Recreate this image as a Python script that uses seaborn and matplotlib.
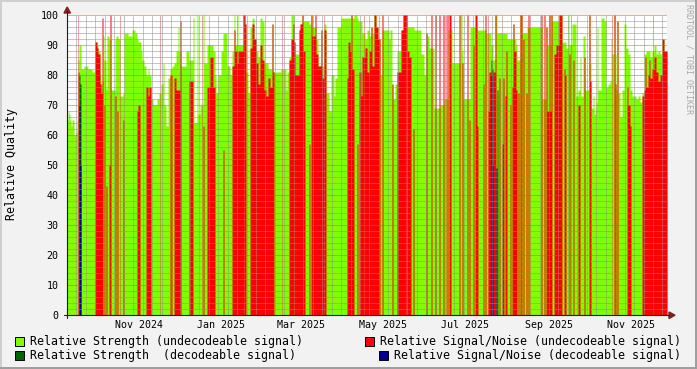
import numpy as np
import pandas as pd
import matplotlib
matplotlib.use("Agg")
import matplotlib.pyplot as plt
import matplotlib.dates as mdates
from matplotlib.ticker import MultipleLocator, NullFormatter
from matplotlib.patches import Rectangle, Polygon
from matplotlib.lines import Line2D
import seaborn as sns

# ---------------- data ----------------
START = "2024-09-23"          # first sample of the graph
N_SAMPLES = 600               # number of consolidated samples
SPAN_DAYS = 444.4             # time span covered by the samples

# run-length encoded samples: index where a run starts, strength and S/N for the run
seg_start = [0, 1, 2, 3, 4, 5, 7, 9, 10, 11,
             12, 14, 17, 21, 25, 28, 30, 31, 33, 34,
             35, 36, 37, 38, 39, 40, 42, 43, 44, 48,
             49, 50, 51, 53, 56, 57, 61, 65, 68, 70,
             71, 73, 74, 75, 77, 79, 81, 82, 84, 86,
             90, 92, 94, 96, 97, 99, 101, 103, 105, 107,
             109, 111, 112, 113, 114, 119, 122, 126, 127, 130,
             131, 133, 136, 137, 140, 143, 146, 148, 149, 151,
             154, 156, 157, 160, 163, 165, 167, 168, 170, 171,
             176, 178, 179, 181, 183, 185, 187, 189, 191, 193,
             195, 197, 199, 201, 203, 205, 206, 207, 214, 219,
             220, 222, 224, 226, 227, 228, 232, 233, 235, 236,
             238, 242, 243, 244, 245, 248, 249, 251, 254, 255,
             257, 259, 262, 264, 267, 268, 270, 274, 280, 281,
             283, 284, 285, 287, 290, 291, 292, 294, 295, 298,
             300, 302, 304, 305, 307, 309, 311, 313, 315, 316,
             322, 323, 325, 326, 328, 330, 334, 336, 340, 342,
             344, 346, 347, 354, 357, 359, 360, 362, 364, 365,
             367, 368, 369, 372, 373, 376, 377, 380, 381, 382,
             384, 385, 392, 393, 395, 396, 400, 401, 402, 403,
             406, 407, 408, 410, 411, 416, 417, 418, 419, 421,
             422, 424, 426, 428, 429, 430, 432, 433, 435, 436,
             437, 438, 439, 440, 443, 444, 445, 446, 447, 449,
             450, 451, 452, 453, 455, 456, 457, 459, 460, 461,
             462, 474, 475, 477, 478, 479, 480, 482, 483, 484,
             485, 487, 489, 492, 495, 497, 498, 499, 501, 502,
             503, 505, 506, 507, 509, 511, 513, 514, 516, 517,
             518, 522, 523, 524, 526, 527, 529, 530, 531, 534,
             537, 539, 541, 543, 544, 545, 547, 548, 549, 550,
             551, 553, 555, 557, 559, 560, 561, 563, 564, 565,
             569, 571, 573, 575, 577, 578, 579, 581, 582, 583,
             585, 587, 589, 591, 593, 595, 597]

strength = [65, 68, 67, 65, 63, 65, 60, 61, 65, 85,
            90, 82, 83, 82, 81, 91, 90, 88, 80, 77,
            78, 93, 85, 85, 75, 93, 92, 92, 75, 92,
            93, 93, 92, 73, 74, 94, 93, 95, 94, 92,
            91, 91, 88, 85, 83, 80, 82, 80, 72, 70,
            72, 74, 77, 84, 70, 63, 79, 82, 83, 84,
            88, 96, 88, 88, 83, 88, 85, 99, 64, 100,
            67, 70, 100, 84, 90, 90, 88, 80, 74, 80,
            88, 94, 94, 83, 80, 88, 100, 90, 100, 90,
            100, 97, 81, 74, 96, 99, 92, 88, 86, 99,
            98, 84, 84, 82, 82, 97, 81, 81, 82, 75,
            81, 86, 100, 100, 91, 87, 95, 97, 100, 98,
            98, 97, 97, 100, 96, 96, 92, 83, 95, 83,
            97, 74, 68, 80, 73, 79, 96, 99, 99, 99,
            99, 100, 99, 100, 99, 98, 98, 98, 94, 92,
            95, 93, 96, 94, 100, 96, 92, 80, 95, 95,
            92, 95, 77, 72, 77, 88, 95, 100, 96, 96,
            96, 96, 95, 87, 80, 94, 93, 89, 89, 89,
            69, 69, 69, 69, 70, 70, 72, 72, 95, 95,
            95, 84, 84, 100, 88, 72, 72, 72, 72, 96,
            96, 96, 96, 95, 95, 95, 95, 95, 94, 94,
            94, 90, 85, 100, 100, 94, 94, 94, 94, 94,
            94, 94, 94, 92, 92, 92, 92, 97, 92, 90,
            85, 85, 85, 100, 94, 94, 94, 94, 96, 96,
            96, 96, 72, 72, 72, 96, 90, 100, 90, 100,
            98, 98, 98, 100, 91, 91, 91, 89, 100, 90,
            90, 97, 97, 97, 73, 75, 86, 73, 93, 93,
            75, 100, 84, 69, 73, 67, 71, 96, 75, 99,
            98, 76, 77, 78, 92, 87, 100, 87, 75, 98,
            74, 66, 75, 97, 89, 89, 87, 75, 75, 73,
            72, 73, 71, 74, 87, 87, 88, 88, 88, 86,
            88, 90, 87, 88, 87, 92, 88]

snr = [0, 0, 0, 0, 0, 0, 0, 0, 0, 81,
       0, 0, 0, 0, 0, 91, 89, 87, 77, 74,
       99, 0, 70, 0, 43, 0, 50, 100, 0, 73,
       0, 68, 0, 0, 65, 0, 0, 0, 0, 68,
       70, 0, 0, 0, 0, 76, 73, 76, 0, 0,
       0, 0, 0, 0, 0, 0, 0, 80, 0, 79,
       75, 75, 75, 98, 0, 0, 78, 0, 0, 0,
       0, 0, 63, 0, 76, 86, 76, 0, 0, 0,
       0, 55, 0, 0, 0, 83, 95, 88, 84, 88,
       100, 97, 0, 0, 89, 97, 92, 84, 77, 90,
       85, 75, 73, 79, 76, 97, 81, 0, 0, 0,
       0, 85, 92, 97, 91, 80, 95, 97, 100, 88,
       0, 57, 0, 100, 93, 100, 87, 83, 95, 79,
       95, 0, 0, 0, 0, 0, 0, 0, 79, 91,
       88, 100, 82, 0, 57, 0, 81, 73, 86, 89,
       81, 88, 96, 83, 100, 96, 92, 0, 100, 0,
       0, 0, 77, 0, 0, 81, 95, 100, 88, 86,
       0, 62, 0, 0, 0, 94, 0, 0, 100, 0,
       0, 100, 0, 100, 0, 100, 0, 100, 0, 100,
       0, 0, 100, 0, 84, 0, 100, 0, 65, 0,
       90, 0, 100, 63, 0, 77, 0, 100, 0, 68,
       81, 0, 81, 100, 0, 0, 79, 0, 57, 79,
       0, 73, 88, 0, 70, 0, 76, 97, 88, 75,
       0, 74, 0, 100, 0, 92, 0, 74, 0, 100,
       0, 100, 0, 100, 0, 96, 68, 100, 68, 100,
       0, 87, 90, 100, 0, 82, 80, 0, 0, 87,
       0, 0, 85, 0, 0, 70, 0, 0, 0, 86,
       0, 100, 78, 0, 0, 0, 0, 0, 0, 0,
       0, 0, 0, 0, 0, 0, 100, 77, 0, 98,
       0, 0, 0, 0, 0, 76, 70, 63, 0, 0,
       0, 0, 0, 73, 75, 86, 76, 80, 85, 79,
       82, 86, 81, 78, 80, 92, 88]

# decodeable samples (sample index, strength, S/N)
dec_idx = [12, 13, 424, 425, 429, 430]
dec_strength = [80, 77, 85, 82, 0, 75]
dec_snr = [70, 50, 80, 50, 49, 0]

label_dates = ["2024-11-15", "2025-01-15", "2025-03-15", "2025-05-15",
               "2025-07-15", "2025-09-15", "2025-11-15"]

legend_labels = ["Relative Strength (undecodeable signal)",
                 "Relative Signal/Noise (undecodeable signal)",
                 "Relative Strength  (decodeable signal)",
                 "Relative Signal/Noise (decodeable signal)"]

assert len(seg_start) == len(strength) == len(snr)

# ---------------- style ----------------
C_LIME = "#80FF00"
C_RED = "#FF0000"
C_DGREEN = "#006400"
C_BLUE = "#000099"
C_BACK = "#F2F2F2"
C_GRID = (0.56, 0.56, 0.56, 0.38)
C_MGRID = (0.87, 0.31, 0.31, 0.45)
C_AXIS = "#1F1F1F"
C_ARROW = "#802020"

sns.set_theme(style="white")
plt.rcParams["font.family"] = ["DejaVu Sans Mono", "DejaVu Sans"]

W, H = 697, 369
fig = plt.figure(figsize=(W / 100, H / 100), dpi=100, facecolor=C_BACK)


def fx(x):
    return x / W


def fy(y):
    return 1 - y / H


ax = fig.add_axes([fx(67), fy(315), 600 / W, 300 / H])
ax.set_facecolor("white")

t0 = mdates.date2num(pd.Timestamp(START))
step = SPAN_DAYS / N_SAMPLES
edges = t0 + np.array(seg_start + [N_SAMPLES], dtype=float) * step
mids = (edges[:-1] + edges[1:]) / 2
df = pd.DataFrame({"t": mids, "strength": strength, "snr": snr})

full_edges = t0 + np.arange(N_SAMPLES + 1) * step
ddf = pd.DataFrame({"t": t0 + (np.array(dec_idx) + 0.5) * step,
                    "strength": dec_strength, "snr": dec_snr})

common = dict(element="step", fill=True, alpha=1, linewidth=0, ax=ax)
sns.histplot(data=df, x="t", weights="strength", bins=edges.tolist(), color=C_LIME, **common)
sns.histplot(data=df, x="t", weights="snr", bins=edges.tolist(), color=C_RED, **common)
sns.histplot(data=ddf, x="t", weights="strength", bins=full_edges.tolist(), color=C_DGREEN, **common)
sns.histplot(data=ddf, x="t", weights="snr", bins=full_edges.tolist(), color=C_BLUE, **common)

ax.set_xlim(t0, t0 + SPAN_DAYS)
ax.set_ylim(0, 100)
ax.set_xlabel("")
ax.set_ylabel("")
for s in ax.spines.values():
    s.set_visible(False)

# grid
ax.set_axisbelow(False)
ax.xaxis.set_major_locator(mdates.MonthLocator())
ax.xaxis.set_minor_locator(mdates.WeekdayLocator(byweekday=mdates.MO))
ax.xaxis.set_major_formatter(NullFormatter())
ax.yaxis.set_major_locator(MultipleLocator(10))
ax.yaxis.set_minor_locator(MultipleLocator(2))
ax.grid(which="minor", color=C_GRID, linestyle=(0, (1, 1)), linewidth=0.72)
ax.grid(which="major", color=C_MGRID, linestyle=(0, (1, 1)), linewidth=0.72)

ax.tick_params(axis="y", which="major", direction="inout", length=4, width=0.72,
               color=C_AXIS, labelsize=7.2, pad=4, labelcolor="black")
ax.tick_params(axis="y", which="minor", direction="inout", length=2, width=0.72, color=C_AXIS)
ax.tick_params(axis="x", which="major", direction="inout", length=5, width=0.72,
               color=(0.87, 0.31, 0.31))
ax.tick_params(axis="x", which="minor", direction="inout", length=2, width=0.72, color=C_AXIS)

# month labels
tr = matplotlib.transforms.blended_transform_factory(ax.transData, ax.transAxes)
for d in label_dates:
    ts = pd.Timestamp(d)
    ax.text(mdates.date2num(ts), -10.5 / 300, ts.strftime("%b %Y"), transform=tr,
            ha="center", va="center", fontsize=7.2, color="black")

# axes lines and arrows
fig.add_artist(Line2D([fx(67), fx(67)], [fy(318), fy(11)], color=C_AXIS, lw=0.8))
fig.add_artist(Line2D([fx(64), fx(669)], [fy(315), fy(315)], color=C_AXIS, lw=0.8))
fig.add_artist(Polygon([[fx(64), fy(13)], [fx(70.5), fy(13)], [fx(67.2), fy(7)]],
                       closed=True, color=C_ARROW, transform=fig.transFigure))
fig.add_artist(Polygon([[fx(669), fy(312)], [fx(669), fy(318.5)], [fx(675), fy(315.2)]],
                       closed=True, color=C_ARROW, transform=fig.transFigure))

# y label and watermark
fig.text(fx(12), fy(164), "Relative Quality", rotation=90, ha="center", va="center",
         fontsize=8.4, color="black")
fig.text(fx(688.5), fy(4), "RRDTOOL / TOBI OETIKER", rotation=270, ha="center", va="top",
         fontsize=6.0, color="#A8A8A8")

# legend
legend_items = [(15, 337, 30, 342, C_LIME, legend_labels[0]),
                (365, 337, 380, 342, C_RED, legend_labels[1]),
                (15, 351, 30, 356, C_DGREEN, legend_labels[2]),
                (379, 351, 394, 356, C_BLUE, legend_labels[3])]
for bx, by, tx, ty, col, lab in legend_items:
    fig.add_artist(Rectangle((fx(bx), fy(by + 9)), 9 / W, 9 / H, transform=fig.transFigure,
                             facecolor=col, edgecolor="black", linewidth=0.72))
    fig.text(fx(tx), fy(ty), lab, ha="left", va="center", fontsize=8.36, color="black")

# 3D frame
fig.add_artist(Line2D([0, 1], [fy(0.5), fy(0.5)], color="#CFCFCF", lw=1.44))
fig.add_artist(Line2D([fx(0.5), fx(0.5)], [0, 1], color="#CFCFCF", lw=1.44))
fig.add_artist(Line2D([0, 1], [fy(368), fy(368)], color="#9E9E9E", lw=1.44))
fig.add_artist(Line2D([fx(696), fx(696)], [0, 1], color="#9E9E9E", lw=1.44))

fig.savefig("out.png", dpi=100, facecolor=C_BACK)
